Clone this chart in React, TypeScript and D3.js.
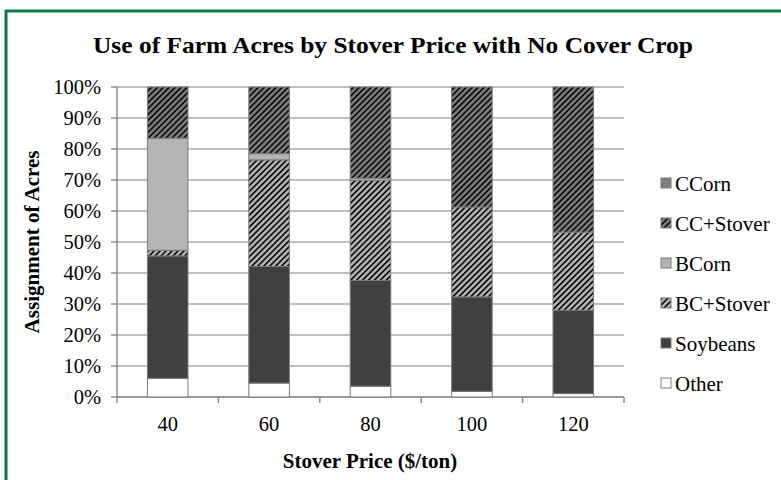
import React from "react";
import * as d3 from "d3";

const categories = ["40", "60", "80", "100", "120"];
const seriesNames = ["Other", "Soybeans", "BC+Stover", "BCorn", "CC+Stover", "CCorn"];
const other = [6.0, 4.5, 3.5, 1.8, 1.1];
const soybeans = [39.5, 37.6, 34.1, 30.5, 26.9];
const bcStover = [1.8, 34.4, 32.3, 29.0, 25.2];
const bcorn = [36.2, 2.0, 0.7, 0.0, 0.0];
const ccStover = [16.5, 21.5, 29.4, 38.7, 46.8];
const ccorn = [0, 0, 0, 0, 0];
const yTicks = [0, 10, 20, 30, 40, 50, 60, 70, 80, 90, 100];
const legendOrder = ["CCorn", "CC+Stover", "BCorn", "BC+Stover", "Soybeans", "Other"];

const W = 781;
const H = 480;
const M = { left: 117, right: 624, top: 87, bottom: 397 };

const fills: Record<string, string> = {
  Other: "#ffffff",
  Soybeans: "#404040",
  "BC+Stover": "url(#hatchLight)",
  BCorn: "#b4b4b4",
  "CC+Stover": "url(#hatchDark)",
  CCorn: "#808080",
};

export default function App() {
  const values = [other, soybeans, bcStover, bcorn, ccStover, ccorn];
  const table = categories.map((c, i) => {
    const row: any = { cat: c };
    seriesNames.forEach((s, k) => (row[s] = values[k][i]));
    return row;
  });
  const stack = d3.stack<any>().keys(seriesNames)(table);
  const x = d3.scaleBand().domain(categories).range([M.left, M.right]).paddingInner(0.6).paddingOuter(0.3);
  const xb = d3.scaleBand().domain(categories).range([M.left, M.right]);
  const y = d3.scaleLinear().domain([0, 100]).range([M.bottom, M.top]);
  const serif = "'Liberation Serif', 'Times New Roman', serif";

  return (
    <svg width={W} height={H} style={{ position: "absolute", left: 0, top: 0 }} fontFamily={serif}>
      <defs>
        <pattern id="hatchDark" patternUnits="userSpaceOnUse" width={4.2} height={4.2} patternTransform="rotate(45)">
          <rect width={4.2} height={4.2} fill="#7c7c7c" />
          <rect width={1.7} height={4.2} fill="#111" />
        </pattern>
        <pattern id="hatchLight" patternUnits="userSpaceOnUse" width={4.2} height={4.2} patternTransform="rotate(45)">
          <rect width={4.2} height={4.2} fill="#b2b2b2" />
          <rect width={1.7} height={4.2} fill="#111" />
        </pattern>
      </defs>
      <rect x={0} y={0} width={W} height={H} fill="#fff" />
      <rect x={6} y={11} width={W + 10} height={H + 10} fill="none" stroke="#0e7a47" strokeWidth={3} />
      <text x={393} y={53} textAnchor="middle" fontWeight="bold" fontSize={23} textLength={600} lengthAdjust="spacingAndGlyphs">
        Use of Farm Acres by Stover Price with No Cover Crop
      </text>
      {yTicks.map((t) => (
        <g key={t}>
          <line x1={M.left} x2={M.right} y1={y(t)} y2={y(t)} stroke="#a8a8a8" strokeWidth={1.5} />
          <line x1={M.left - 6} x2={M.left} y1={y(t)} y2={y(t)} stroke="#8c8c8c" strokeWidth={1.5} />
          <text x={101} y={y(t) + 6.5} textAnchor="end" fontSize={20.5}>
            {t}%
          </text>
        </g>
      ))}
      <line x1={M.left} x2={M.left} y1={M.top} y2={M.bottom} stroke="#8c8c8c" strokeWidth={1.5} />
      <line x1={M.left} x2={M.right} y1={M.bottom} y2={M.bottom} stroke="#8c8c8c" strokeWidth={1.5} />
      {categories.map((c) => (
        <line key={c} x1={(xb(c) as number) + xb.bandwidth()} x2={(xb(c) as number) + xb.bandwidth()} y1={M.bottom} y2={M.bottom + 6} stroke="#8c8c8c" strokeWidth={1.5} />
      ))}
      <line x1={M.left} x2={M.left} y1={M.bottom} y2={M.bottom + 6} stroke="#8c8c8c" strokeWidth={1.5} />
      {stack.map((layer) => (
        <g key={layer.key}>
          {layer.map((d, i) => {
            const h = y(d[0]) - y(d[1]);
            if (h <= 0) return null;
            return (
              <rect
                key={i}
                x={x(categories[i])}
                y={y(d[1])}
                width={x.bandwidth()}
                height={h}
                fill={fills[layer.key]}
                stroke="#7a7a7a"
                strokeWidth={1}
              />
            );
          })}
        </g>
      ))}
      {categories.map((c) => (
        <text key={c} x={(xb(c) as number) + xb.bandwidth() / 2} y={431} textAnchor="middle" fontSize={20.5}>
          {c}
        </text>
      ))}
      <text x={370} y={468} textAnchor="middle" fontWeight="bold" fontSize={21}>
        Stover Price ($/ton)
      </text>
      <text transform={`translate(39,${(M.top + M.bottom) / 2}) rotate(-90)`} textAnchor="middle" fontWeight="bold" fontSize={21}>
        Assignment of Acres
      </text>
      {legendOrder.map((s, i) => (
        <g key={s} transform={`translate(661,${178 + i * 40})`}>
          <rect x={0} y={0} width={10} height={10} fill={fills[s]} stroke="#7a7a7a" strokeWidth={1} />
          <text x={14} y={12.5} fontSize={21}>
            {s}
          </text>
        </g>
      ))}
    </svg>
  );
}
